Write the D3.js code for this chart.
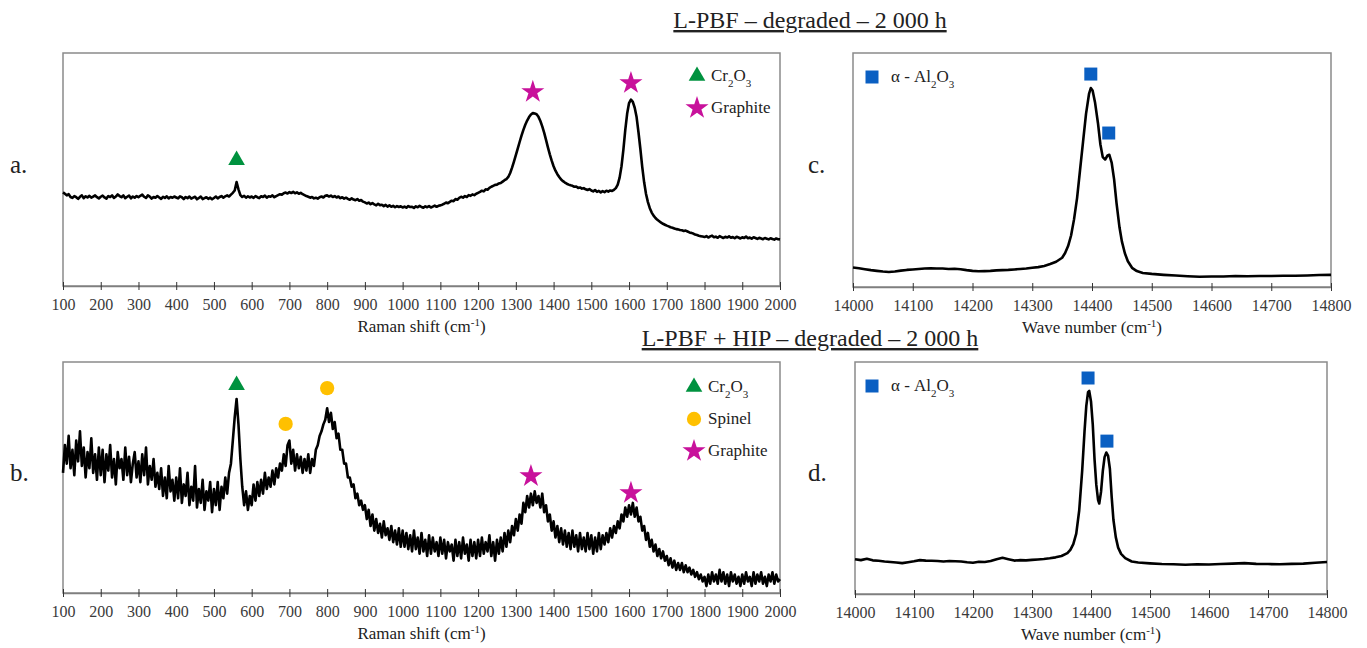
<!DOCTYPE html>
<html>
<head>
<meta charset="utf-8">
<title>Raman spectra - degraded 2000 h</title>
<script src="https://cdnjs.cloudflare.com/ajax/libs/d3/7.8.5/d3.min.js"></script>
<style>
  body { margin: 0; background: #fff; }
  text { font-family: "Liberation Serif", "Times New Roman", serif; }
  .tick text { fill: #3a3a3a; font-size: 16px; }
  .tick line { stroke: #333; }
  path.domain { stroke: #7f7f7f; stroke-width: 1.5; }
</style>
</head>
<body>
<svg id="fig" width="1367" height="648"></svg>
<script>
// ---- data (arbitrary intensity 0-100 per panel) ----
var ramanShift = d3.range(100, 2001, 5)
var ramanTicks = d3.range(100, 2001, 100)
var waveTicks = d3.range(14000, 14801, 100)

// a. L-PBF degraded, Raman 100-2000 every 5 cm-1
var spectrumA = [
  40.2, 39.6, 38.9, 39.4, 38.2, 37.8, 38.6, 38.1, 37.4, 38.3, 38.9, 37.7, 38.5, 38.0, 38.7, 37.9, 38.4, 38.9, 38.1, 37.6,
  38.3, 38.8, 38.0, 37.5, 38.6, 38.2, 38.9, 37.8, 38.4, 39.3, 38.6, 38.1, 38.9, 37.7, 38.3, 38.8, 37.6, 38.4, 37.9, 38.6,
  38.1, 38.7, 39.2, 38.3, 37.8, 38.9, 38.4, 37.5, 38.2, 37.9, 38.6, 38.0, 37.4, 38.3, 37.8, 38.5, 37.6, 38.2, 37.9, 38.4,
  38.0, 37.6, 38.5, 38.1, 37.3, 38.2, 37.7, 38.4, 37.5, 37.9, 38.3, 37.2, 37.8, 38.4, 37.3, 37.7, 38.1, 37.4, 37.9, 37.2,
  37.8, 38.4, 37.6, 38.2, 38.6, 37.9, 38.5, 38.9, 38.4, 39.2, 40.0, 41.0, 44.6, 41.5, 39.0, 38.2, 38.7, 37.9, 38.5, 38.0,
  38.4, 37.8, 38.6, 38.1, 37.7, 38.5, 38.2, 38.8, 37.9, 38.5, 38.3, 38.9, 38.1, 38.6, 39.0, 39.4, 39.2, 39.8, 40.1, 39.7,
  40.3, 39.9, 40.4, 39.8, 40.2, 39.6, 40.0, 39.4, 39.0, 38.6, 38.3, 37.9, 38.2, 37.6, 37.9, 37.5, 38.1, 38.4, 38.0, 38.7,
  38.9, 38.4, 38.8, 38.2, 38.6, 38.0, 38.4, 37.7, 38.1, 37.5, 37.9, 37.4, 37.0, 37.6, 37.1, 36.8, 37.3, 36.6, 36.9, 36.2,
  35.9, 35.4, 35.8, 35.1, 35.6, 35.0, 34.6, 35.3, 34.7, 34.9, 34.3, 34.8, 34.1, 34.6, 34.0, 34.4, 33.8, 34.3, 33.9, 34.2,
  33.7, 34.1, 33.6, 34.3, 33.9, 34.0, 33.5, 34.2, 33.8, 34.4, 33.9, 33.6, 34.2, 33.8, 34.3, 33.7, 34.1, 34.5, 34.0, 34.4,
  34.6, 34.9, 35.3, 35.8, 35.5, 36.1, 36.6, 36.4, 37.3, 37.0, 37.8, 38.3, 37.9, 38.6, 38.2, 39.0, 38.7, 39.3, 39.0, 39.6,
  40.0, 40.4, 40.9, 40.6, 41.5, 41.3, 42.1, 42.6, 43.0, 43.4, 43.5, 44.0, 44.2, 44.8, 45.4, 45.9, 46.8, 48.5, 50.8, 53.4,
  56.2, 59.0, 61.8, 64.5, 67.0, 69.2, 71.0, 72.5, 73.6, 74.2, 74.0, 73.7, 72.6, 70.8, 68.5, 65.8, 62.7, 59.5, 56.5, 53.8,
  51.4, 49.5, 48.0, 46.8, 45.7, 45.0, 44.4, 43.9, 43.5, 43.2, 43.0, 42.6, 42.7, 42.1, 42.3, 41.8, 42.0, 41.5, 41.2, 41.6,
  41.0, 40.6, 41.2, 40.4, 40.8, 40.2, 40.7, 40.3, 40.9, 40.5, 41.0, 40.8, 41.3, 42.0, 43.5, 46.5, 51.4, 58.5, 67.0, 74.0,
  78.5, 80.0, 79.0, 76.5, 72.5, 66.0, 58.8, 51.0, 44.5, 39.5, 36.0, 33.4, 31.5, 30.2, 29.2, 28.4, 27.8, 27.2, 26.7, 26.3,
  25.9, 25.6, 25.2, 25.0, 24.7, 24.4, 24.3, 24.0, 23.9, 23.6, 23.8, 23.4, 23.0, 22.8, 22.5, 22.1, 21.9, 21.6, 21.4, 21.2,
  21.0, 21.4, 20.8, 21.3, 21.6, 20.9, 21.2, 20.7, 21.4, 21.0, 20.6, 21.1, 20.8, 21.3, 20.7, 21.0, 20.5, 21.1, 20.8, 20.4,
  20.9, 20.6, 21.2, 20.5, 20.8, 20.3, 20.9, 20.6, 20.2, 20.7, 20.4, 20.1, 20.6, 20.3, 20.0, 20.5, 20.2, 19.9, 20.4, 20.1,
  20.0
]

// b. L-PBF + HIP degraded, Raman 100-2000 every 5 cm-1 (very noisy)
var spectrumB = [
  52, 64, 56, 68, 54, 62, 51, 66, 57, 70, 55, 63, 50, 61, 54, 67, 52, 60, 49, 63,
  51, 62, 48, 60, 53, 64, 50, 58, 47, 61, 54, 58, 49, 63, 51, 59, 48, 56, 61, 50,
  57, 48, 60, 51, 63, 47, 55, 49, 58, 46, 52, 45, 54, 42, 50, 41, 55, 44, 49, 40,
  50, 41, 54, 39, 47, 42, 52, 38, 46, 40, 55, 37, 45, 39, 49, 36, 44, 40, 48, 35,
  45, 38, 48, 36, 46, 41, 50, 43, 52, 56, 66, 76, 84, 73, 58, 46, 38, 44, 36, 42,
  38, 47, 40, 48, 42, 49, 43, 52, 45, 50, 46, 53, 47, 54, 50, 56, 53, 60, 55, 64,
  66, 56, 62, 53, 60, 54, 59, 52, 58, 53, 60, 52, 58, 55, 62, 64, 68, 70, 73, 75,
  80, 74, 78, 71, 74, 67, 69, 62, 62, 56, 56, 50, 50, 46, 47, 41, 43, 38, 40, 36,
  38, 32, 36, 29, 34, 27, 32, 26, 30, 24, 31, 25, 28, 23, 29, 22, 27, 21, 28, 20,
  27, 20, 26, 19, 25, 18, 27, 19, 24, 17, 26, 18, 23, 16, 25, 17, 24, 18, 22, 16,
  24, 17, 23, 15, 22, 18, 21, 14, 23, 16, 22, 15, 24, 17, 21, 14, 23, 16, 22, 15,
  23, 16, 24, 17, 22, 18, 25, 16, 22, 14, 23, 17, 24, 18, 26, 20, 27, 22, 29, 25,
  32, 27, 34, 30, 39, 35, 42, 37, 43, 38, 44, 39, 42, 37, 43, 35, 38, 31, 34, 27,
  31, 24, 29, 22, 28, 21, 27, 20, 26, 19, 27, 20, 25, 18, 26, 19, 24, 18, 26, 19,
  25, 17, 24, 18, 26, 19, 25, 21, 26, 22, 28, 24, 29, 26, 31, 28, 34, 31, 37, 33,
  38, 34, 39, 33, 37, 31, 33, 27, 29, 23, 26, 20, 23, 18, 21, 16, 19, 15, 18, 14,
  16, 12, 15, 11, 14, 10, 13, 10, 13, 9, 12, 9, 11, 8, 10, 7, 9, 6, 8, 5,
  7, 3, 8, 4, 9, 5, 8, 4, 10, 5, 9, 4, 8, 3, 9, 5, 8, 4, 7, 3,
  8, 4, 9, 5, 7, 3, 9, 4, 8, 5, 9, 4, 7, 3, 8, 5, 9, 4, 8, 5,
  6
]

// c. L-PBF degraded, photoluminescence 14000-14800
var waveC = [14000, 14010, 14020, 14030, 14040, 14050, 14060, 14070, 14080, 14090,
  14100, 14110, 14120, 14130, 14140, 14150, 14160, 14170, 14180, 14190,
  14200, 14210, 14220, 14230, 14240, 14250, 14260, 14270, 14280, 14290,
  14300, 14310, 14320, 14330, 14340, 14350, 14355, 14360, 14365, 14370,
  14375, 14380, 14385, 14390, 14395, 14398, 14401, 14405, 14410, 14414,
  14418, 14422, 14426, 14429, 14433, 14437, 14441, 14446, 14450, 14455,
  14460, 14467, 14475, 14485, 14500, 14520, 14540, 14560, 14580, 14600,
  14620, 14640, 14660, 14680, 14700, 14720, 14740, 14760, 14780, 14800]
var spectrumC = [8.3, 8.0, 7.6, 7.2, 6.9, 6.6, 6.4, 6.6, 7.0, 7.3,
  7.5, 7.7, 7.9, 8.0, 7.9, 7.9, 7.7, 7.8, 7.6, 7.2,
  6.9, 6.7, 6.8, 6.9, 7.1, 7.2, 7.3, 7.5, 7.7, 7.9,
  8.2, 8.5, 9.0, 9.8, 10.8, 12.5, 14.5, 17.5, 22, 29,
  38, 50, 62, 74, 82.5, 85, 84, 79, 70, 61,
  55.5, 54.5, 56.2, 56.5, 53, 46, 36, 25.5, 19.5, 14.4,
  11, 8.2, 6.8, 6.0, 5.6, 5.2, 4.9, 4.6, 4.4, 4.5,
  4.5, 4.7, 4.6, 4.7, 4.7, 4.8, 4.8, 4.9, 5.1, 5.2]

// d. L-PBF + HIP degraded, photoluminescence 14000-14800
var waveD = [14000, 14010, 14020, 14030, 14040, 14050, 14060, 14070, 14080, 14090,
  14100, 14110, 14120, 14130, 14140, 14150, 14160, 14170, 14180, 14190,
  14200, 14210, 14220, 14230, 14240, 14250, 14260, 14270, 14280, 14290,
  14300, 14310, 14320, 14330, 14340, 14350, 14360, 14365, 14370, 14375,
  14380, 14385, 14389, 14392, 14395, 14397, 14400, 14403, 14406, 14409,
  14412, 14414, 14417, 14420, 14423, 14426, 14429, 14432, 14435, 14438,
  14442, 14446, 14451, 14458, 14469, 14480, 14500, 14520, 14540, 14560,
  14580, 14600, 14620, 14640, 14660, 14680, 14700, 14720, 14740, 14760,
  14780, 14800]
var spectrumD = [15.0, 14.6, 15.2, 14.5, 14.3, 14.0, 13.8, 13.6, 13.3, 13.7,
  14.1, 14.6, 14.4, 14.3, 14.2, 14.0, 14.2, 14.1, 14.0, 13.7,
  13.5, 13.9, 13.8, 14.2, 15.0, 15.6, 15.0, 14.4, 14.6, 14.5,
  14.7, 14.9, 15.1, 15.4, 15.8, 16.4, 17.6, 19.0, 21.5, 26,
  36, 53, 70, 81, 87, 87.5, 83, 73, 58, 47,
  40.5, 39, 44, 53, 59, 61, 59.5, 54, 42, 32,
  24.5, 20, 17.3, 15.5, 14, 13.6, 13.2, 12.9, 12.8, 12.6,
  12.8, 12.7, 12.9, 13.1, 13.3, 13.0, 12.9, 12.8, 13.0, 13.1,
  13.5, 13.8]

// peak markers: [phase, position, marker height]
var markersA = [["Cr2O3", 560, 54], ["Graphite", 1345, 83.3], ["Graphite", 1605, 87.1]]
var markersB = [["Cr2O3", 560, 90], ["Spinel", 690, 73.2], ["Spinel", 800, 88.7],
                ["Graphite", 1340, 50.6], ["Graphite", 1605, 43.3]]
var markersC = [["Al2O3", 14398, 91], ["Al2O3", 14428, 65.8]]
var markersD = [["Al2O3", 14395, 93.1], ["Al2O3", 14427, 65.9]]

var legendA = ["Cr2O3", "Graphite"]
var legendB = ["Cr2O3", "Spinel", "Graphite"]
var legendC = ["Al2O3"]

// ---- styles for each phase ----
var phaseStyle = {
  Cr2O3:    { type: d3.symbolTriangle, size: 120, color: "#00923f", label: [["Cr"], ["2", "sub"], ["O"], ["3", "sub"]] },
  Spinel:   { type: d3.symbolCircle,   size: 160, color: "#ffc000", label: [["Spinel"]] },
  Graphite: { type: d3.symbolStar,     size: 165, color: "#c8119b", label: [["Graphite"]] },
  Al2O3:    { type: d3.symbolSquare,   size: 169, color: "#0a5fc2", label: [["\u03b1 - Al"], ["2", "sub"], ["O"], ["3", "sub"]] }
}

var svg = d3.select("#fig")

var panels = [
  { letter: "a.", box: [63, 780, 53, 286], dom: [100, 2000], ticks: ramanTicks, xs: ramanShift, ys: spectrumA,
    xlabel: "Raman shift", marks: markersA, legend: legendA, legendAt: [697, 76], letterX: 10 },
  { letter: "b.", box: [63, 780, 362, 593], dom: [100, 2000], ticks: ramanTicks, xs: ramanShift, ys: spectrumB,
    xlabel: "Raman shift", marks: markersB, legend: legendB, legendAt: [694, 387], letterX: 10 },
  { letter: "c.", box: [853, 1331, 53, 287], dom: [14000, 14800], ticks: waveTicks, xs: waveC, ys: spectrumC,
    xlabel: "Wave number", marks: markersC, legend: legendC, legendAt: [872, 77], letterX: 808 },
  { letter: "d.", box: [855, 1327, 362, 594], dom: [14000, 14800], ticks: waveTicks, xs: waveD, ys: spectrumD,
    xlabel: "Wave number", marks: markersD, legend: legendC, legendAt: [872, 386], letterX: 808 }
]

function richText(sel, parts) {
  parts.forEach(function(p) {
    var t = sel.append("tspan").text(p[0])
    if (p[1] == "sub") t.attr("baseline-shift", "sub").style("font-size", "11px")
    if (p[1] == "sup") t.attr("baseline-shift", "super").style("font-size", "11px")
  })
}

panels.forEach(function(p) {
  var left = p.box[0], right = p.box[1], top = p.box[2], bottom = p.box[3]
  var x = d3.scaleLinear().domain(p.dom).range([left, right])
  var y = d3.scaleLinear().domain([0, 100]).range([bottom, top])

  // frame
  svg.append("rect")
    .attr("x", left).attr("y", top)
    .attr("width", right - left).attr("height", bottom - top)
    .style("fill", "none").style("stroke", "#8a8a8a").style("stroke-width", 1.5)

  // x axis, ticks crossing the line
  var ax = svg.append("g")
    .attr("transform", "translate(0," + bottom + ")")
    .call(d3.axisBottom(x).tickValues(p.ticks).tickFormat(d3.format("d")).tickSize(4).tickPadding(9).tickSizeOuter(0))
  ax.selectAll(".tick line").attr("y1", -4).attr("y2", 4)
  ax.selectAll(".tick text").style("font-family", "'Liberation Serif', 'Times New Roman', serif")

  // spectrum
  var line = d3.line()
    .x(function(d, i) { return x(p.xs[i]) })
    .y(function(d) { return y(d) })
  svg.append("path")
    .datum(p.ys)
    .attr("d", line)
    .style("fill", "none").style("stroke", "#000").style("stroke-width", 2.6)
    .style("stroke-linejoin", "round")

  // peak markers
  svg.selectAll(null)
    .data(p.marks)
    .enter()
    .append("path")
      .attr("transform", function(d) { return "translate(" + x(d[1]) + "," + y(d[2]) + ")" })
      .attr("d", function(d) { var s = phaseStyle[d[0]]; return d3.symbol().type(s.type).size(s.size)() })
      .style("fill", function(d) { return phaseStyle[d[0]].color })

  // legend
  p.legend.forEach(function(name, i) {
    var s = phaseStyle[name]
    var ly = p.legendAt[1] + i * 32
    svg.append("path")
      .attr("transform", "translate(" + p.legendAt[0] + "," + ly + ")")
      .attr("d", d3.symbol().type(s.type).size(s.size)())
      .style("fill", s.color)
    var t = svg.append("text")
      .attr("x", p.legendAt[0] + (name == "Al2O3" ? 19 : 14))
      .attr("y", ly + 5)
      .style("font-size", "17px").style("fill", "#222")
    richText(t, s.label)
  })

  // axis title
  var xt = svg.append("text")
    .attr("x", (left + right) / 2).attr("y", bottom + 46)
    .attr("text-anchor", "middle")
    .style("font-size", "17px").style("fill", "#222")
  richText(xt, [[p.xlabel + " (cm"], ["-1", "sup"], [")"]])

  // panel letter
  svg.append("text")
    .attr("x", p.letterX).attr("y", (top + bottom) / 2 + 3)
    .style("font-size", "25px").style("fill", "#222")
    .text(p.letter)
})

// section titles
var titles = [["L-PBF \u2013 degraded \u2013 2 000 h", 28], ["L-PBF + HIP \u2013 degraded \u2013 2 000 h", 346]]
titles.forEach(function(t) {
  svg.append("text")
    .attr("x", 810).attr("y", t[1])
    .attr("text-anchor", "middle")
    .style("font-size", "24px").style("fill", "#222")
    .style("text-decoration", "underline")
    .text(t[0])
})
</script>
</body>
</html>
